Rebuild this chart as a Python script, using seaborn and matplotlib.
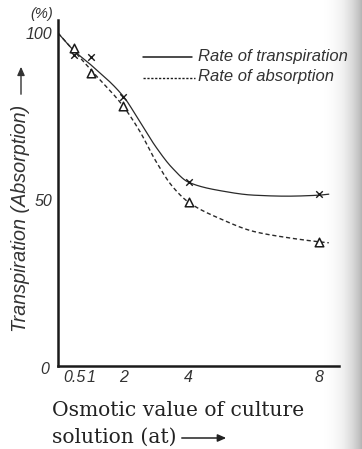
import numpy as np
import pandas as pd
import matplotlib
matplotlib.use("Agg")
import matplotlib.pyplot as plt
import seaborn as sns

sns.set_theme(style="white")
plt.rcParams["font.family"] = ["Liberation Sans", "DejaVu Sans"]

# Measured points (osmotic value in atm, percent of control)
osmotic = [0.5, 1, 2, 4, 8]
transpiration = [93.4, 92.8, 80.8, 55.3, 51.6]
absorption = [95.5, 88.0, 78.0, 49.2, 37.2]

# Hand-fitted smooth curves through the observations
trans_curve_x = [0, 0.5, 1, 2, 2.5, 3, 3.5, 4, 5, 6, 7, 8, 8.3]
trans_curve_y = [100, 94.6, 90.5, 81, 73.5, 65.8, 59.5, 55.2, 52.6, 51.3, 51.0, 51.3, 51.6]
absorb_curve_x = [0, 0.5, 1, 2, 2.5, 3, 3.5, 4, 5, 6, 7, 8, 8.3]
absorb_curve_y = [100, 94.5, 89, 78, 70.6, 61.5, 54, 49.2, 44.1, 40.4, 38.6, 37.3, 37.0]

x_ticks = [0.5, 1, 2, 4, 8]
x_tick_labels = ["0.5", "1", "2", "4", "8"]


def pchip(xk, yk, xs):
    """Shape-preserving piecewise cubic Hermite interpolation."""
    xk = np.asarray(xk, float)
    yk = np.asarray(yk, float)
    h = np.diff(xk)
    delta = np.diff(yk) / h
    n = len(xk)
    m = np.zeros(n)
    for k in range(1, n - 1):
        if delta[k - 1] * delta[k] > 0:
            w1 = 2 * h[k] + h[k - 1]
            w2 = h[k] + 2 * h[k - 1]
            m[k] = (w1 + w2) / (w1 / delta[k - 1] + w2 / delta[k])
    m[0] = delta[0]
    m[-1] = delta[-1]
    idx = np.clip(np.searchsorted(xk, xs) - 1, 0, n - 2)
    t = (xs - xk[idx]) / h[idx]
    h00 = 2 * t ** 3 - 3 * t ** 2 + 1
    h10 = t ** 3 - 2 * t ** 2 + t
    h01 = -2 * t ** 3 + 3 * t ** 2
    h11 = t ** 3 - t ** 2
    return (h00 * yk[idx] + h10 * h[idx] * m[idx]
            + h01 * yk[idx + 1] + h11 * h[idx] * m[idx + 1])


xs_t = np.linspace(trans_curve_x[0], trans_curve_x[-1], 400)
xs_a = np.linspace(absorb_curve_x[0], absorb_curve_x[-1], 400)
curve_t = pd.DataFrame({"x": xs_t, "y": pchip(trans_curve_x, trans_curve_y, xs_t)})
curve_a = pd.DataFrame({"x": xs_a, "y": pchip(absorb_curve_x, absorb_curve_y, xs_a)})
pts = pd.DataFrame({"x": osmotic, "t": transpiration, "a": absorption})

W, H = 362, 449
fig = plt.figure(figsize=(W / 100, H / 100), dpi=100)
fig.patch.set_facecolor("white")

# page-edge shading on the right
shade = fig.add_axes([322 / W, 0, 40 / W, 1], zorder=-5)
grad = np.linspace(0, 1, 64) ** 1.8
shade.imshow(grad[None, :], cmap="Greys", vmin=0, vmax=2.5, aspect="auto",
             extent=[0, 1, 0, 1])
shade.set_axis_off()

# axes: x 0 -> px 58, 8 -> px 319 ; y 0 -> px 366, 100 -> px 33
px_per_x = (319 - 58) / 8
px_per_y = (366 - 33) / 100
xmax, ymax = 8.8, 106
ax = fig.add_axes([58 / W, (H - 366) / H, xmax * px_per_x / W, ymax * px_per_y / H])
ax.patch.set_alpha(0)
ax.set_xlim(0, xmax)
ax.set_ylim(0, ymax)

ink = "#1a1a1a"
sns.lineplot(data=curve_t, x="x", y="y", ax=ax, color="#2a2a2a", lw=0.9,
             estimator=None, sort=False)
sns.lineplot(data=curve_a, x="x", y="y", ax=ax, color="#2a2a2a", lw=1.0,
             estimator=None, sort=False, linestyle=(0, (3.0, 2.0)))
sns.scatterplot(data=pts, x="x", y="t", ax=ax, marker="x", s=22, color=ink,
                linewidth=1.0, zorder=4)
sns.scatterplot(data=pts, x="x", y="a", ax=ax, marker="^", s=38,
                facecolor="white", edgecolor=ink, linewidth=1.1, zorder=4)

for s in ["top", "right"]:
    ax.spines[s].set_visible(False)
ax.spines["left"].set_bounds(0, 104)
ax.spines["bottom"].set_bounds(0, 8.6)
for s in ["left", "bottom"]:
    ax.spines[s].set_linewidth(1.8)
    ax.spines[s].set_color(ink)

ax.set_xticks(x_ticks)
ax.set_xticklabels(x_tick_labels, fontstyle="italic", fontsize=11.5, color="#333333")
ax.tick_params(axis="x", direction="in", length=5, width=0.9, color=ink, pad=3)
ax.set_yticks([50, 100])
ax.set_yticklabels(["50", "100"], fontstyle="italic", fontsize=11.5, color="#333333")
ax.tick_params(axis="y", direction="out", length=3, width=0.9, color=ink, pad=1)
ax.set_xlabel("")
ax.set_ylabel("")

# origin and unit labels
fig.text(40 / W, 1 - 370 / H, "0", fontstyle="italic", fontsize=11.5, color="#333333",
         ha="left", va="center")
fig.text(42 / W, 1 - 14 / H, "(%)", fontstyle="italic", fontsize=10.5, color="#333333",
         ha="center", va="center")

# axis titles
fig.text(21 / W, 1 - 218 / H, "Transpiration (Absorption)",
         rotation=90, fontstyle="italic", fontsize=14.2, color="#333333",
         ha="center", va="center")
fig.add_artist(matplotlib.patches.FancyArrowPatch(
    (21 / W, 1 - 97 / H), (21 / W, 1 - 64 / H), transform=fig.transFigure,
    arrowstyle="-|>,head_length=5,head_width=2.2", lw=1.0, color="#333333"))
fig.text(52 / W, 1 - 410 / H, "Osmotic value of culture", family="DejaVu Serif",
         fontsize=14.6, color="#222222", ha="left", va="center")
fig.text(52 / W, 1 - 437 / H, "solution (at)", family="DejaVu Serif",
         fontsize=14.6, color="#222222", ha="left", va="center")
fig.add_artist(matplotlib.patches.FancyArrowPatch(
    (179 / W, 1 - 438 / H), (229 / W, 1 - 438 / H), transform=fig.transFigure,
    arrowstyle="-|>,head_length=5,head_width=2.2", lw=1.1, color="#222222"))

# legend
ax.plot([(143 - 58) / px_per_x, (192 - 58) / px_per_x], [(366 - 57) / px_per_y] * 2,
        color=ink, lw=1.1, clip_on=False)
ax.plot([(143 - 58) / px_per_x, (195 - 58) / px_per_x], [(366 - 78) / px_per_y] * 2,
        color=ink, lw=1.0, linestyle=(0, (1.6, 1.2)), clip_on=False)
fig.text(198 / W, 1 - 56 / H, "Rate of transpiration", fontstyle="italic",
         fontsize=12, color="#333333", ha="left", va="center")
fig.text(198 / W, 1 - 77 / H, "Rate of absorption", fontstyle="italic",
         fontsize=12, color="#333333", ha="left", va="center")

fig.savefig("out.png", dpi=100)
